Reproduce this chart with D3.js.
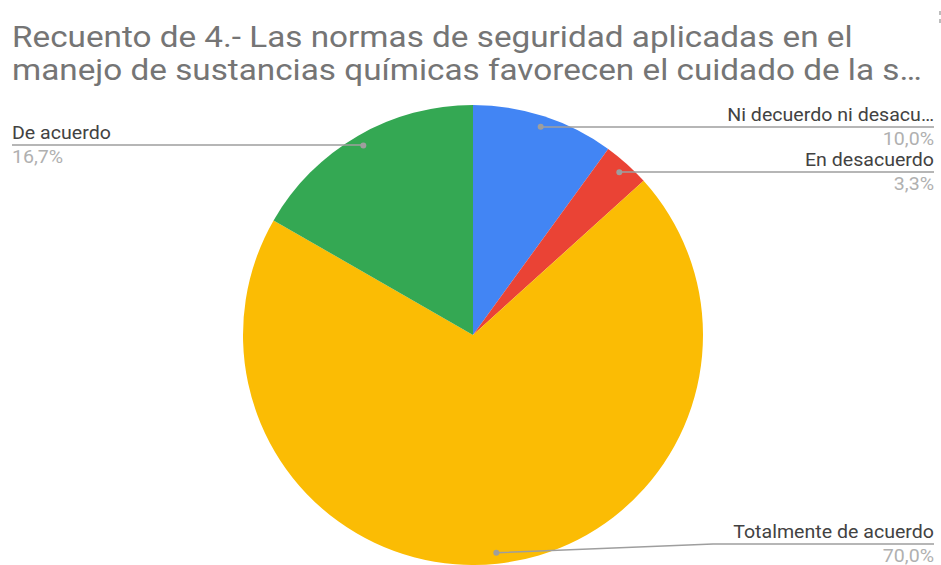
<!DOCTYPE html>
<html>
<head>
<meta charset="utf-8">
<script src="https://cdn.jsdelivr.net/npm/d3@7"></script>
<style>
	body { margin: 0; background: #fff; }
	svg text { font-family: Roboto, Arial, sans-serif; }
</style>
</head>
<body>
<div id="chart"></div>
<script>
let width = 941
let height = 565

let titleLines = [
	'Recuento de 4.- Las normas de seguridad aplicadas en el',
	'manejo de sustancias químicas favorecen el cuidado de la s…',
]

let categories = ['Ni decuerdo ni desacu…', 'En desacuerdo', 'Totalmente de acuerdo', 'De acuerdo']
let values = [10.0, 3.3, 70.0, 16.7]
let pctLabels = ['10,0%', '3,3%', '70,0%', '16,7%']
let colors = ['#4285f4', '#ea4335', '#fbbc04', '#34a853']

// label rows: y of the underline and which side
let labelLayout = [
	{ y: 127, side: 'right' },
	{ y: 172, side: 'right' },
	{ y: 544, side: 'right' },
	{ y: 145, side: 'left' },
]

let center = { x: 473, y: 335 }
let radius = 230

// the screenshot text is a bit wider than the font renders
let stretch = 1.12

let svg = d3.select('#chart').append('svg')
	.attr('width', width)
	.attr('height', height)

let title = svg.append('g')
let titleText = title.selectAll('text')
	.data(titleLines)
	.enter().append('text')
	.attr('font-family', '"Liberation Sans", Arial, sans-serif')
	.attr('font-size', 30)
	.attr('fill', '#757575')
	.text(d => d)

// first title line spans x 12..853 in the reference
let titleScale = 841 / titleText.node().getComputedTextLength()
titleText.attr('transform', (d, i) => `translate(12,${47 + i * 33}) scale(${titleScale},1)`)

// sliver of the menu icon at the right edge
svg.append('g').selectAll('rect')
	.data([11, 19])
	.enter().append('rect')
	.attr('x', 939)
	.attr('y', d => d)
	.attr('width', 2)
	.attr('height', 4)
	.attr('fill', '#bdbdbd')

let pie = d3.pie().sort(null).value(d => d)
let arcs = pie(values)

let arc = d3.arc().innerRadius(0).outerRadius(radius)
let dotArc = d3.arc().innerRadius(radius * 0.952).outerRadius(radius * 0.952)

let inner = svg.append('g')
	.attr('transform', `translate(${center.x},${center.y})`)

inner.selectAll('path')
	.data(arcs)
	.enter().append('path')
	.attr('d', arc)
	.attr('fill', (d, i) => colors[i])

let labels = svg.append('g')

arcs.forEach((d, i) => {
	let c = dotArc.centroid(d)
	let px = center.x + c[0]
	let py = center.y + c[1]
	let lay = labelLayout[i]
	let right = lay.side === 'right'
	let edge = right ? 934 : 12
	let g = labels.append('g')

	// leader: dot -> elbow -> edge
	let elbowX = right ? Math.max(px + 20, 713) : Math.min(px - 20, 364)
	if (Math.abs(py - lay.y) < 3) elbowX = px
	g.append('path')
		.attr('d', `M${px},${py}L${elbowX},${lay.y}L${edge},${lay.y}`)
		.attr('fill', 'none')
		.attr('stroke', '#9e9e9e')
		.attr('stroke-width', 1.5)
	g.append('circle')
		.attr('cx', px)
		.attr('cy', py)
		.attr('r', 3)
		.attr('fill', '#9e9e9e')

	g.append('text')
		.attr('transform', `translate(${edge},${lay.y - 6}) scale(${stretch},1)`)
		.attr('text-anchor', right ? 'end' : 'start')
		.attr('font-size', 17.5)
		.attr('fill', '#424242')
		.text(categories[i])
	g.append('text')
		.attr('transform', `translate(${edge},${lay.y + 18}) scale(${stretch},1)`)
		.attr('text-anchor', right ? 'end' : 'start')
		.attr('font-size', 17.5)
		.attr('fill', '#b0b0b0')
		.text(pctLabels[i])
})
</script>
</body>
</html>
